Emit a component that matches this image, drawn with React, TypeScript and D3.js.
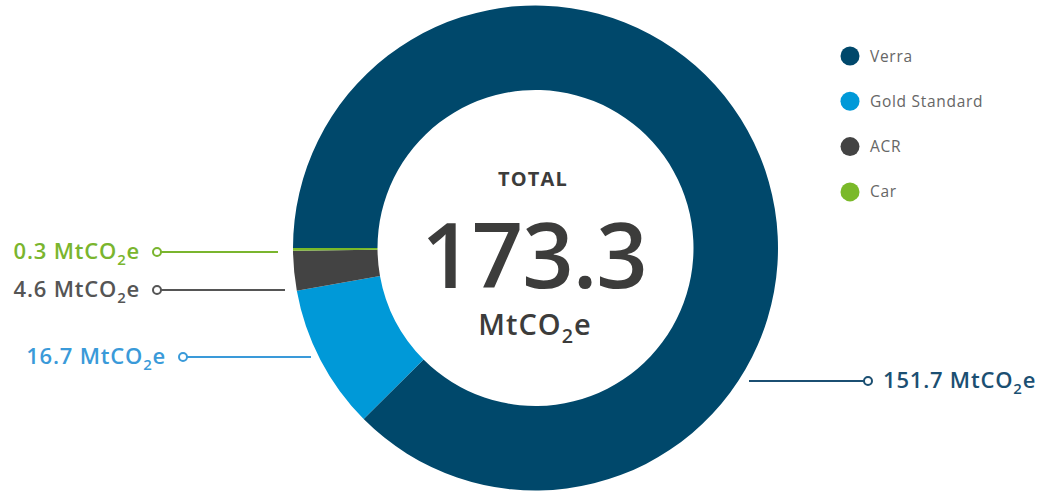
import React from 'react';
import * as d3 from 'd3';

// data
const registries = ['Verra', 'Gold Standard', 'ACR', 'Car'];
const volumes = [151.7, 16.7, 4.6, 0.3];
const sliceColors = ['#00486b', '#0099d8', '#434343', '#7ab929'];
const labelColors = ['#1b4f72', '#3a9ad9', '#555555', '#7ab52e'];
const totalValue = 173.3;
const unitLabel = 'MtCO';

// label layout (side, vertical offset from centre, leader marker x)
const labelLayout = [
  { side: 'right', dy: 133, markerX: 868, lineFrom: 749 },
  { side: 'left', dy: 109, markerX: 183, lineTo: 311 },
  { side: 'left', dy: 42, markerX: 157, lineTo: 285 },
  { side: 'left', dy: 4, markerX: 157, lineTo: 278 },
];

const W = 1038;
const H = 491;
const cx = 535.5;
const cy = 248;
const outerR = 242.5;
const innerR = 158;
const FONT = '"Open Sans", "Noto Sans", sans-serif';

const Unit = ({ size }: { size: number }) => (
  <>
    <tspan>{unitLabel}</tspan>
    <tspan dy={size * 0.28} fontSize={size * 0.68}>2</tspan>
    <tspan dy={-size * 0.28}>e</tspan>
  </>
);

export default function App() {
  const pie = d3
    .pie<number>()
    .sort(null)
    .startAngle(-Math.PI / 2)
    .endAngle((3 * Math.PI) / 2)
    .value((d) => d);
  const arcs = pie(volumes);
  const arc = d3.arc<d3.PieArcDatum<number>>().innerRadius(innerR).outerRadius(outerR);

  return (
    <svg
      width={W}
      height={H}
      style={{ position: 'absolute', left: 0, top: 0, background: '#fff' }}
      fontFamily={FONT}
    >
      <g transform={`translate(${cx},${cy})`}>
        {arcs.map((a, i) => (
          <path key={registries[i]} d={arc(a) || ''} fill={sliceColors[i]} />
        ))}
      </g>

      {/* centre text */}
      <text x={533} y={186} textAnchor="middle" fontSize={20} fontWeight={700} fill="#3c3c3b" letterSpacing={1.2}>
        TOTAL
      </text>
      <text x={534} y={288} textAnchor="middle" fontSize={90} fontWeight={600} fill="#3c3c3b" letterSpacing={-1}>
        {d3.format('.1f')(totalValue)}
      </text>
      <text x={535} y={335} textAnchor="middle" fontSize={29} fontWeight={600} fill="#3c3c3b" letterSpacing={1}>
        <Unit size={29} />
      </text>

      {/* leader labels */}
      {labelLayout.map((l, i) => {
        const y = cy + l.dy;
        const color = labelColors[i];
        const stroke = sliceColors[i] === '#0099d8' ? '#3a9ad9' : color;
        const x1 = l.side === 'left' ? l.markerX + 4 : l.lineFrom!;
        const x2 = l.side === 'left' ? l.lineTo! : l.markerX - 4;
        return (
          <g key={registries[i]}>
            <line x1={x1} x2={x2} y1={y} y2={y} stroke={stroke} strokeWidth={2} />
            <circle cx={l.markerX} cy={y} r={4} fill="#fff" stroke={stroke} strokeWidth={2} />
            <text
              x={l.side === 'left' ? l.markerX - 17 : l.markerX + 15}
              y={y + 7}
              textAnchor={l.side === 'left' ? 'end' : 'start'}
              fontSize={22}
              fontWeight={600}
              fill={color}
              letterSpacing={0.8}
            >
              {`${d3.format('.1f')(volumes[i])} `}
              <Unit size={22} />
            </text>
          </g>
        );
      })}

      {/* legend */}
      {registries.map((r, i) => (
        <g key={r} transform={`translate(850,${56 + i * 45.3})`}>
          <circle r={9.5} fill={sliceColors[i]} />
          <text x={20} y={5.5} fontSize={15.5} fill="#666666" letterSpacing={0.7}>
            {r}
          </text>
        </g>
      ))}
    </svg>
  );
}
